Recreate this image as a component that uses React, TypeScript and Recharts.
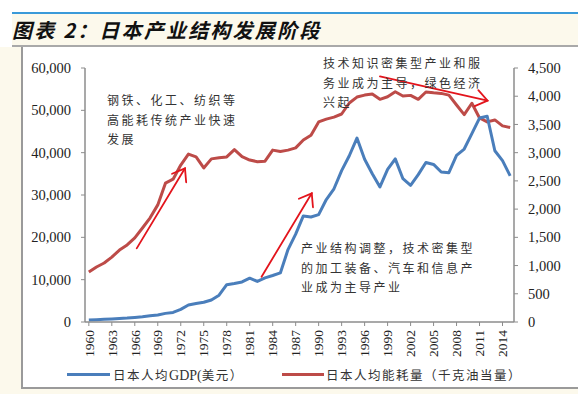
import { LineChart, Line, XAxis, YAxis, ReferenceLine } from 'recharts';

const years = [
  1960, 1961, 1962, 1963, 1964, 1965, 1966, 1967, 1968, 1969,
  1970, 1971, 1972, 1973, 1974, 1975, 1976, 1977, 1978, 1979,
  1980, 1981, 1982, 1983, 1984, 1985, 1986, 1987, 1988, 1989,
  1990, 1991, 1992, 1993, 1994, 1995, 1996, 1997, 1998, 1999,
  2000, 2001, 2002, 2003, 2004, 2005, 2006, 2007, 2008, 2009,
  2010, 2011, 2012, 2013, 2014, 2015,
];

// 日本人均GDP(美元)
const gdp = [
  480, 560, 630, 720, 840, 920, 1060, 1230, 1450, 1670,
  2040, 2270, 2970, 4000, 4350, 4660, 5200, 6340, 8820, 9100,
  9460, 10360, 9580, 10430, 10980, 11590, 17110, 20750, 25050, 24810,
  25360, 28930, 31470, 35770, 39270, 43440, 38440, 35020, 31900, 36030,
  38530, 33850, 32290, 34810, 37690, 37220, 35430, 35280, 39340, 40860,
  44510, 48170, 48600, 40450, 38110, 34520,
];

// 日本人均能耗量(千克油当量)
const energy = [
  886, 975, 1045, 1150, 1275, 1365, 1490, 1665, 1845, 2075,
  2460, 2530, 2780, 2975, 2925, 2730, 2890, 2910, 2925, 3055,
  2930, 2870, 2840, 2850, 3045, 3020, 3045, 3085, 3225, 3310,
  3545, 3595, 3630, 3685, 3880, 3985, 4020, 4040, 3945, 3990,
  4080, 4005, 4015, 3945, 4075, 4060, 4050, 4020, 3845, 3675,
  3875, 3615, 3545, 3580, 3475, 3445,
];

const xTicks = [1960, 1963, 1966, 1969, 1972, 1975, 1978, 1981, 1984, 1987, 1990, 1993, 1996, 1999, 2002, 2005, 2008, 2011, 2014];
const leftTicks = [0, 10000, 20000, 30000, 40000, 50000, 60000];
const rightTicks = [0, 500, 1000, 1500, 2000, 2500, 3000, 3500, 4000, 4500];

// annotation arrows: [tail, tip] in (year, left-axis value)
const arrows = [
  [{ x: 1966.25, y: 17400 }, { x: 1972.55, y: 36300 }],
  [{ x: 1982.55, y: 10700 }, { x: 1989.1, y: 30400 }],
  [{ x: 1998.0, y: 58000 }, { x: 2012.05, y: 52300 }],
];

const data = years.map((year, i) => ({ year, gdp: gdp[i], energy: energy[i] }));

const fmt = (v: number) => v.toLocaleString('en-US');
const serif = '"Liberation Serif", "Times New Roman", serif';
const cjk = '"Noto Sans CJK SC", sans-serif';
const ARROW = '#e3141c';

const Arrow = (p: any) => {
  const { x1, y1, x2, y2 } = p;
  const ang = Math.atan2(y1 - y2, x1 - x2);
  const len = 14;
  const spread = (36 * Math.PI) / 180;
  const b1x = x2 + len * Math.cos(ang + spread);
  const b1y = y2 + len * Math.sin(ang + spread);
  const b2x = x2 + len * Math.cos(ang - spread);
  const b2y = y2 + len * Math.sin(ang - spread);
  return (
    <g stroke={ARROW} strokeWidth={1.8} fill="none" strokeLinecap="round">
      <line x1={x1} y1={y1} x2={x2} y2={y2} />
      <polyline points={`${b1x},${b1y} ${x2},${y2} ${b2x},${b2y}`} />
    </g>
  );
};

const XTick = (p: any) => {
  const { x, y, payload } = p;
  return (
    <text
      x={x}
      y={y}
      transform={`rotate(-90, ${x}, ${y})`}
      textAnchor="end"
      dy="0.35em"
      fontFamily={serif}
      fontSize={13.5}
      fill="#222"
    >
      {payload.value}
    </text>
  );
};

const noteStyle = {
  position: 'absolute' as const,
  fontFamily: cjk,
  fontSize: 12,
  letterSpacing: 2.5,
  lineHeight: '19.5px',
  color: '#333',
  whiteSpace: 'nowrap' as const,
};

const legendText = {
  position: 'absolute' as const,
  top: 366,
  fontFamily: cjk,
  fontSize: 12.5,
  letterSpacing: 1.5,
  color: '#333',
  whiteSpace: 'nowrap' as const,
  lineHeight: '18px',
};

export default function App() {
  return (
    <div style={{ position: 'fixed', left: 0, top: 0, width: 578, height: 394, background: '#fff', overflow: 'hidden' }}>
      {/* header band */}
      <div style={{ position: 'absolute', left: 12, top: 12, width: 566, height: 2, background: '#3a9ad9' }} />
      <div style={{ position: 'absolute', left: 12, top: 14, width: 566, height: 31, background: '#fcf9ec' }} />
      <div
        style={{
          position: 'absolute', left: 12, top: 16, fontFamily: cjk, fontWeight: 700, fontStyle: 'italic',
          fontSize: 20, letterSpacing: 2.2, color: '#111', lineHeight: '28px',
        }}
      >
        图表 2：日本产业结构发展阶段
      </div>
      <div style={{ position: 'absolute', left: 12, top: 45, width: 566, height: 2, background: '#a9a9a9' }} />
      <div style={{ position: 'absolute', left: 0, top: 47, width: 21, height: 347, background: '#fcf9ec' }} />
      <div style={{ position: 'absolute', left: 21, top: 47, width: 2, height: 341, background: '#9a9a9a' }} />
      <div style={{ position: 'absolute', left: 21, top: 387, width: 557, height: 2, background: '#9a9a9a' }} />
      <div style={{ position: 'absolute', left: 0, top: 389, width: 578, height: 5, background: '#fcf9ec' }} />

      <div style={{ position: 'absolute', left: 0, top: 0 }}>
        <LineChart width={578} height={394} data={data} margin={{ top: 68, right: 0, bottom: 30, left: 25 }}>
          <XAxis
            dataKey="year"
            type="number"
            domain={[1959.5, 2015.5]}
            ticks={xTicks}
            interval={0}
            tick={<XTick />}
            tickSize={4}
            tickMargin={4}
            height={42}
            stroke="#8c8c8c"
            axisLine={{ stroke: '#8c8c8c', strokeWidth: 1.5 }}
          />
          <YAxis
            yAxisId="left"
            domain={[0, 60000]}
            ticks={leftTicks}
            tickFormatter={fmt}
            width={60}
            tickSize={4}
            tickMargin={10}
            stroke="#8c8c8c"
            axisLine={{ stroke: '#8c8c8c', strokeWidth: 1.5 }}
            tick={{ fontFamily: serif, fontSize: 14.5, fill: '#222' }}
          />
          <YAxis
            yAxisId="right"
            orientation="right"
            domain={[0, 4500]}
            ticks={rightTicks}
            tickFormatter={fmt}
            width={64}
            tickSize={4}
            tickMargin={10}
            stroke="#8c8c8c"
            axisLine={{ stroke: '#8c8c8c', strokeWidth: 1.5 }}
            tick={{ fontFamily: serif, fontSize: 14.5, fill: '#222', textAnchor: 'start' }}
          />
          <Line
            yAxisId="right"
            dataKey="energy"
            stroke="#bd4b48"
            strokeWidth={3}
            dot={false}
            strokeLinejoin="round"
            isAnimationActive={false}
          />
          <Line
            yAxisId="left"
            dataKey="gdp"
            stroke="#4a7ebb"
            strokeWidth={3}
            dot={false}
            strokeLinejoin="round"
            isAnimationActive={false}
          />
          {arrows.map((seg, i) => (
            <ReferenceLine key={i} yAxisId="left" segment={seg} ifOverflow="visible" shape={Arrow} />
          ))}
        </LineChart>
      </div>

      <div style={{ ...noteStyle, left: 107, top: 90 }}>
        钢铁、化工、纺织等<br />高能耗传统产业快速<br />发展
      </div>
      <div style={{ ...noteStyle, left: 323, top: 53 }}>
        技术知识密集型产业和服<br />务业成为主导，绿色经济<br />兴起
      </div>
      <div style={{ ...noteStyle, left: 301, top: 238 }}>
        产业结构调整，技术密集型<br />的加工装备、汽车和信息产<br />业成为主导产业
      </div>

      {/* legend */}
      <div style={{ position: 'absolute', left: 67, top: 373, width: 43, height: 3, background: '#4a7ebb' }} />
      <div style={{ ...legendText, left: 113 }}>
        日本人均<span style={{ fontFamily: serif, fontSize: 14, letterSpacing: 0 }}>GDP(</span>美元）
      </div>
      <div style={{ position: 'absolute', left: 282, top: 373, width: 42, height: 3, background: '#bd4b48' }} />
      <div style={{ ...legendText, left: 326 }}>
        日本人均能耗量（千克油当量）
      </div>
    </div>
  );
}
